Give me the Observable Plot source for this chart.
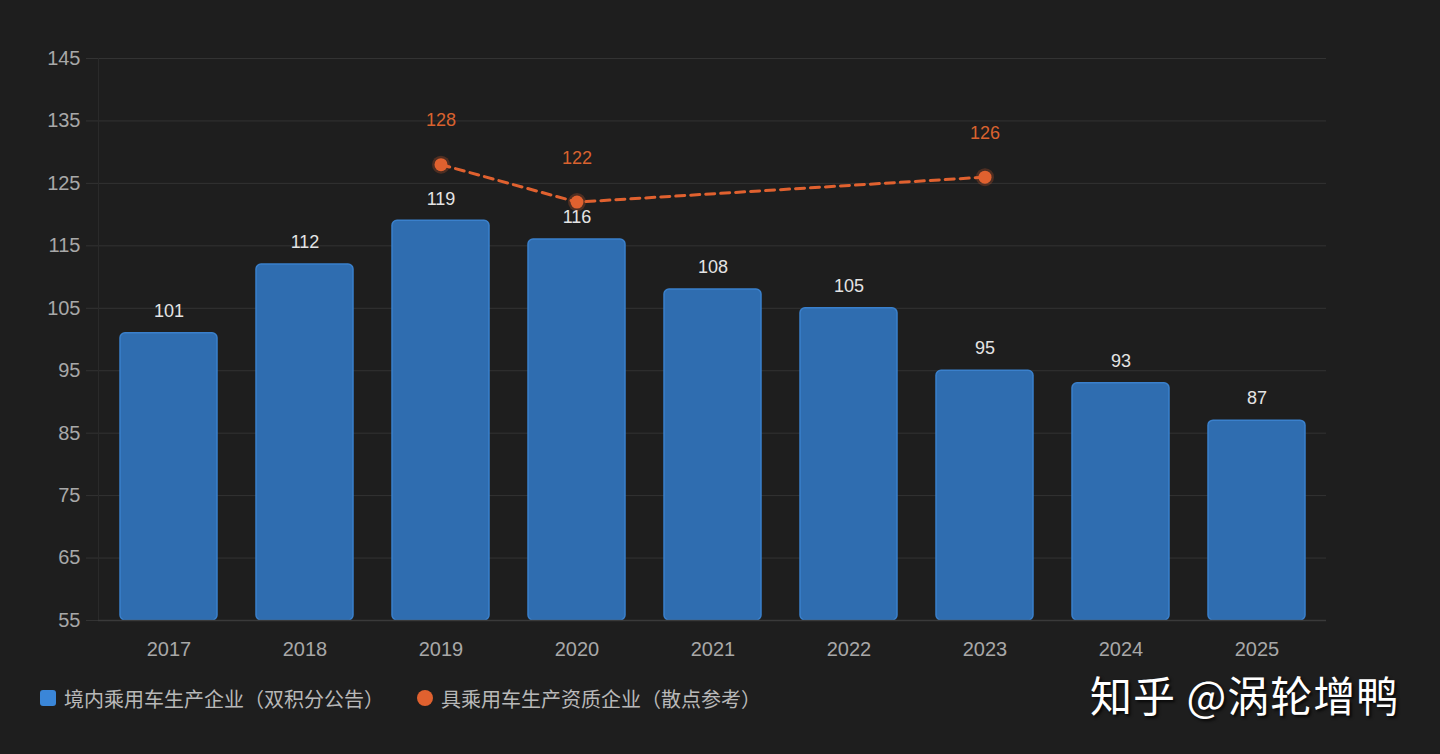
<!DOCTYPE html>
<html>
<head>
<meta charset="utf-8">
<script src="https://cdn.jsdelivr.net/npm/d3@7"></script>
<script src="https://cdn.jsdelivr.net/npm/@observablehq/plot@0.6"></script>
<style>
  html, body { margin: 0; padding: 0; background: #1e1e1e; width: 1440px; height: 754px; overflow: hidden; }
  #wrap { position: relative; width: 1440px; height: 754px; }
  #legend { position: absolute; left: 0; top: 672px; width: 1440px; height: 82px; font-family: "Noto Sans CJK SC", sans-serif; font-size: 20px; color: #b8b8b8; }
  .item { position: absolute; top: 14px; display: flex; align-items: center; height: 24px; }
  .sw { width: 16px; height: 16px; margin-right: 8px; }
  #wm { position: absolute; left: 1090px; top: 663px; font-family: "Noto Sans CJK SC", sans-serif; font-size: 42px; font-weight: 400; color: #fff; text-shadow: 2px 2px 3px rgba(0,0,0,0.8); letter-spacing: 1px; }
</style>
</head>
<body>
<div id="wrap">
  <div id="chart"></div>
  <div id="legend">
    <div class="item" style="left:40px"><div class="sw" style="background:#3a86d8;border-radius:3px"></div>境内乘用车生产企业（双积分公告）</div>
    <div class="item" style="left:417px"><div class="sw" style="background:#e0612f;border-radius:50%"></div>具乘用车生产资质企业（散点参考）</div>
  </div>
  <div id="wm">知乎 @涡轮增鸭</div>
</div>
<script>
const years = ["2017","2018","2019","2020","2021","2022","2023","2024","2025"];
const barValues = [101, 112, 119, 116, 108, 105, 95, 93, 87];
const dotYears = ["2019","2020","2023"];
const dotValues = [128, 122, 126];
const yTicks = [55, 65, 75, 85, 95, 105, 115, 125, 135, 145];

const bars = years.map((y, i) => ({year: y, value: barValues[i]}));
const dots = dotYears.map((y, i) => ({year: y, value: dotValues[i]}));

const chart = Plot.plot({
  width: 1440,
  height: 672,
  marginTop: 58,
  marginBottom: 52,
  marginLeft: 98,
  marginRight: 114,
  style: { background: "transparent", color: "#aaa", fontFamily: "'Liberation Sans', Arial, sans-serif" },
  x: { domain: years, paddingInner: 0.29, paddingOuter: 0.145, label: null },
  y: { domain: [55, 145], label: null },
  marks: [
    Plot.ruleY(yTicks, { stroke: "#333333", strokeWidth: 1 }),
    Plot.axisY({ ticks: yTicks, tickSize: 12, tickPadding: 6, stroke: "#333333", fontSize: 20, fill: "#a8a8a8", label: null }),
    Plot.frame({ anchor: "left", stroke: "#2a2a2a" }),
    Plot.barY(bars, { x: "year", y1: 55, y2: "value", fill: "#2f6db0", stroke: "#3a80cc", strokeWidth: 1.5, rx: 5 }),
    Plot.ruleY([55], { stroke: "#3a3a3a", strokeWidth: 1.5 }),
    Plot.axisX({ tickSize: 0, tickPadding: 21, fontSize: 20, fill: "#a8a8a8", label: null }),
    Plot.text(bars, { x: "year", y: "value", text: d => String(d.value), dy: -22, fill: "#e4e4e4", fontSize: 18 }),
    Plot.line(dots, { x: "year", y: "value", stroke: "#e0612f", strokeWidth: 3, strokeDasharray: "9,6" }),
    Plot.dot(dots, { x: "year", y: "value", r: 9, fill: "#e0612f", fillOpacity: 0.25, stroke: "none" }),
    Plot.dot(dots, { x: "year", y: "value", r: 6.5, fill: "#e0612f", stroke: "none" }),
    Plot.text(dots, { x: "year", y: "value", text: d => String(d.value), dy: -44, fill: "#d9622f", fontSize: 18 })
  ]
});
document.getElementById("chart").appendChild(chart);
</script>
</body>
</html>
